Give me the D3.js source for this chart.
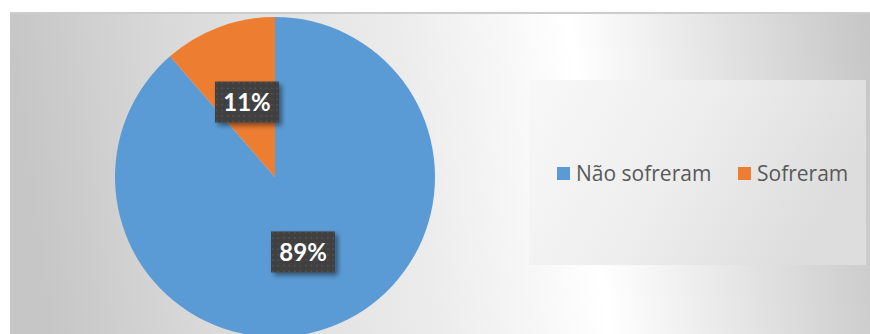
<!DOCTYPE html>
<html>
<head>
<meta charset="utf-8">
<script src="https://cdn.jsdelivr.net/npm/d3@7"></script>
<style>
html,body{margin:0;padding:0;background:#fff;}
svg{display:block;}
</style>
</head>
<body>
<svg id="chart" width="870" height="334"></svg>
<script>
const categories = ["Não sofreram", "Sofreram"];
const values = [88.6, 11.4];
const labels = ["89%", "11%"];
const colors = ["#5b9bd5", "#ed7d31"];

const svg = d3.select("#chart");
const defs = svg.append("defs");

const bg = defs.append("linearGradient").attr("id", "bg")
  .attr("x1", "0").attr("y1", "0.05").attr("x2", "1").attr("y2", "0");
[[0, "#c6c6c6"], [0.18, "#d9d9d9"], [0.45, "#ececec"], [0.65, "#ffffff"], [1, "#c6c6c6"]]
  .forEach(([o, c]) => bg.append("stop").attr("offset", o).attr("stop-color", c));

const pat = defs.append("pattern").attr("id", "dots")
  .attr("width", 5.5).attr("height", 5.5).attr("patternUnits", "userSpaceOnUse");
pat.append("rect").attr("width", 5.5).attr("height", 5.5).attr("fill", "#3f3f3f");
pat.append("rect").attr("x", 2).attr("y", 2).attr("width", 1.6).attr("height", 1.6).attr("fill", "#555555");

const sh = defs.append("filter").attr("id", "shadow")
  .attr("x", "-30%").attr("y", "-30%").attr("width", "170%").attr("height", "170%");
sh.append("feDropShadow").attr("dx", 3).attr("dy", 3).attr("stdDeviation", 2.5)
  .attr("flood-color", "#000").attr("flood-opacity", 0.45);

// chart area
svg.append("rect").attr("x", 10).attr("y", 13).attr("width", 860).attr("height", 330)
  .attr("fill", "url(#bg)");
svg.append("line").attr("x1", 10).attr("x2", 870).attr("y1", 13).attr("y2", 13)
  .attr("stroke", "#cccccc").attr("stroke-width", 2);

// pie
const cx = 275, cy = 177, R = 160;
const pie = d3.pie().sort(null).value(d => d);
const arcs = pie(values);
const arc = d3.arc().innerRadius(0).outerRadius(R);
const labelArc = d3.arc().innerRadius(R / 2).outerRadius(R / 2);

const g = svg.append("g").attr("transform", `translate(${cx},${cy})`);
g.selectAll("path.slice").data(arcs).enter().append("path")
  .attr("class", "slice")
  .attr("d", arc)
  .attr("fill", (d, i) => colors[i]);

const lg = g.selectAll("g.lbl").data(arcs).enter().append("g")
  .attr("class", "lbl")
  .attr("transform", d => {
    const [x, y] = labelArc.centroid(d);
    return `translate(${x},${y})`;
  });
lg.append("rect").attr("x", -32).attr("y", -20.5).attr("width", 64).attr("height", 41)
  .attr("fill", "url(#dots)").attr("filter", "url(#shadow)");
lg.append("text").attr("text-anchor", "middle").attr("dy", "0.36em")
  .attr("fill", "#ffffff")
  .attr("font-family", "Lato, 'Open Sans', sans-serif")
  .attr("font-weight", "bold").attr("font-size", 24)
  .text((d, i) => labels[i]);

// legend
const lgGrad = defs.append("linearGradient").attr("id", "lgbg")
  .attr("x1", "0").attr("y1", "0").attr("x2", "1").attr("y2", "0.3");
[[0, "#f8f8f8"], [0.5, "#eeeeee"], [1, "#dddddd"]]
  .forEach(([o, c]) => lgGrad.append("stop").attr("offset", o).attr("stop-color", c));
svg.append("rect").attr("x", 529).attr("y", 80).attr("width", 337).attr("height", 185)
  .attr("fill", "url(#lgbg)");

const legendX = [557, 738];
const leg = svg.selectAll("g.leg").data(categories).enter().append("g")
  .attr("class", "leg")
  .attr("transform", (d, i) => `translate(${legendX[i]},167)`);
leg.append("rect").attr("width", 13).attr("height", 13).attr("fill", (d, i) => colors[i]);
leg.append("text").attr("x", 19).attr("y", 14)
  .attr("fill", "#595959")
  .attr("font-family", "'Open Sans', sans-serif").attr("font-size", 21)
  .text(d => d);
</script>
</body>
</html>
